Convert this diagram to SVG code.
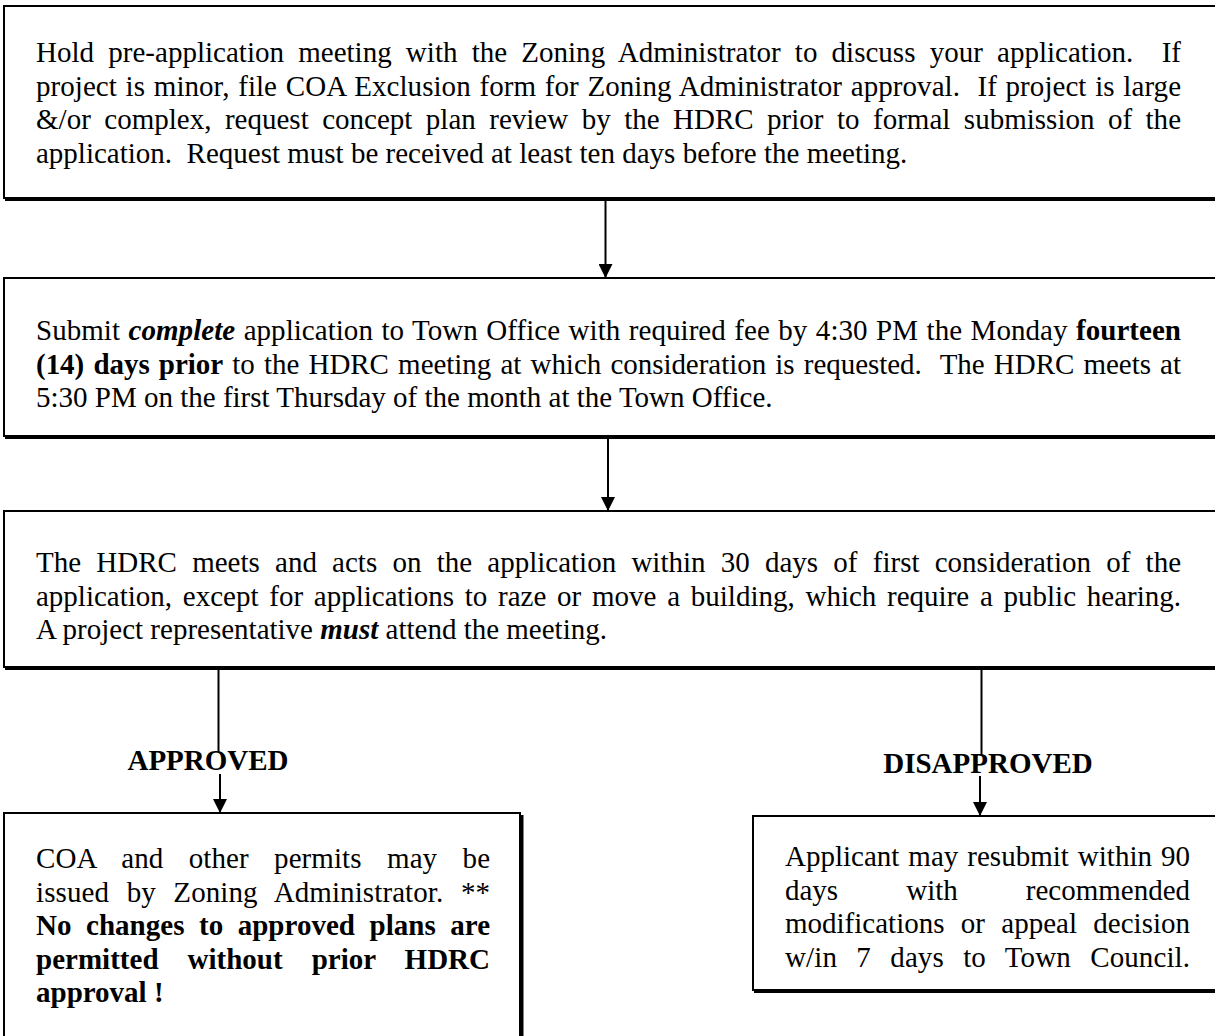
<svg xmlns="http://www.w3.org/2000/svg" width="1215" height="1036" viewBox="0 0 1215 1036">
<style>
.t{font-family:"Liberation Serif","Times New Roman",serif;font-size:29px;fill:#000}
.b{font-weight:bold}
.bi{font-weight:bold;font-style:italic}
.box{fill:#fff;stroke:#000;stroke-width:2}
.sh{fill:#000}
.c{stroke:#000;stroke-width:2;fill:none}
</style>
<defs>
<marker id="ah" markerUnits="userSpaceOnUse" markerWidth="14" markerHeight="14" refX="14" refY="7" orient="auto">
<path d="M0,0 L14,7 L0,14 z" fill="#000"/>
</marker>
</defs>
<rect width="1215" height="1036" fill="#fff"/>
<g id="connectors">
<path class="c" d="M605.5,199 V278" marker-end="url(#ah)"/>
<path class="c" d="M608,438 V511" marker-end="url(#ah)"/>
<path class="c" d="M218.5,669 V752"/>
<path class="c" d="M220,774 V813" marker-end="url(#ah)"/>
<path class="c" d="M981.5,669 V756"/>
<path class="c" d="M980,776 V816" marker-end="url(#ah)"/>
</g>
<g id="n1">
<rect class="box" x="4" y="6" width="1300" height="192"/>
<rect class="sh" x="5" y="197" width="1300" height="4"/>
<text class="t" x="36" y="62" xml:space="preserve" word-spacing="6.9" textLength="1145" lengthAdjust="spacing">Hold pre-application meeting with the Zoning Administrator to discuss your application.  If</text>
<text class="t" x="36" y="95.5" xml:space="preserve" word-spacing="1.4" textLength="1145" lengthAdjust="spacing">project is minor, file COA Exclusion form for Zoning Administrator approval.  If project is large</text>
<text class="t" x="36" y="129" xml:space="preserve" word-spacing="6.2" textLength="1145" lengthAdjust="spacing">&amp;/or complex, request concept plan review by the HDRC prior to formal submission of the</text>
<text class="t" x="36" y="162.5" xml:space="preserve">application.  Request must be received at least ten days before the meeting.</text>
</g>
<g id="n2">
<rect class="box" x="4" y="278" width="1300" height="158"/>
<rect class="sh" x="5" y="435" width="1300" height="4"/>
<text class="t" x="36" y="340" xml:space="preserve" word-spacing="1.2" textLength="1145" lengthAdjust="spacing">Submit <tspan class="bi">complete</tspan> application to Town Office with required fee by 4:30 PM the Monday <tspan class="b">fourteen</tspan></text>
<text class="t" x="36" y="373.5" xml:space="preserve" word-spacing="2.0" textLength="1145" lengthAdjust="spacing"><tspan class="b">(14) days prior</tspan> to the HDRC meeting at which consideration is requested.  The HDRC meets at</text>
<text class="t" x="36" y="407" xml:space="preserve">5:30 PM on the first Thursday of the month at the Town Office.</text>
</g>
<g id="n3">
<rect class="box" x="4" y="511" width="1300" height="156"/>
<rect class="sh" x="5" y="666" width="1300" height="4"/>
<text class="t" x="36" y="572" xml:space="preserve" word-spacing="8.0" textLength="1145" lengthAdjust="spacing">The HDRC meets and acts on the application within 30 days of first consideration of the</text>
<text class="t" x="36" y="605.5" xml:space="preserve" word-spacing="3.5" textLength="1145" lengthAdjust="spacing">application, except for applications to raze or move a building, which require a public hearing.</text>
<text class="t" x="36" y="639" xml:space="preserve">A project representative <tspan class="bi">must</tspan> attend the meeting.</text>
</g>
<g id="lbl-approved">
<text class="t b" x="208" y="770" text-anchor="middle">APPROVED</text>
</g>
<g id="lbl-disapproved">
<text class="t b" x="988" y="773" text-anchor="middle">DISAPPROVED</text>
</g>
<g id="n4">
<rect class="box" x="4" y="813" width="516" height="300"/>
<rect class="sh" x="519.5" y="815" width="4" height="300"/>
<text class="t" x="36" y="868" word-spacing="18.1" textLength="454" lengthAdjust="spacing">COA and other permits may be</text>
<text class="t" x="36" y="901.5" word-spacing="10.2" textLength="454" lengthAdjust="spacing">issued by Zoning Administrator. **</text>
<text class="t b" x="36" y="935" word-spacing="7.2" textLength="454" lengthAdjust="spacing">No changes to approved plans are</text>
<text class="t b" x="36" y="968.5" word-spacing="21.7" textLength="454" lengthAdjust="spacing">permitted without prior HDRC</text>
<text class="t b" x="36" y="1002">approval !</text>
</g>
<g id="n5">
<rect class="box" x="753" y="816" width="600" height="174"/>
<rect class="sh" x="754" y="989" width="600" height="4"/>
<text class="t" x="785" y="866" word-spacing="1.8" textLength="405" lengthAdjust="spacing">Applicant may resubmit within 90</text>
<text class="t" x="785" y="899.5" word-spacing="60.8" textLength="405" lengthAdjust="spacing">days with recommended</text>
<text class="t" x="785" y="933" word-spacing="9.1" textLength="405" lengthAdjust="spacing">modifications or appeal decision</text>
<text class="t" x="785" y="966.5" word-spacing="12.0" textLength="405" lengthAdjust="spacing">w/in 7 days to Town Council.</text>
</g>
</svg>
